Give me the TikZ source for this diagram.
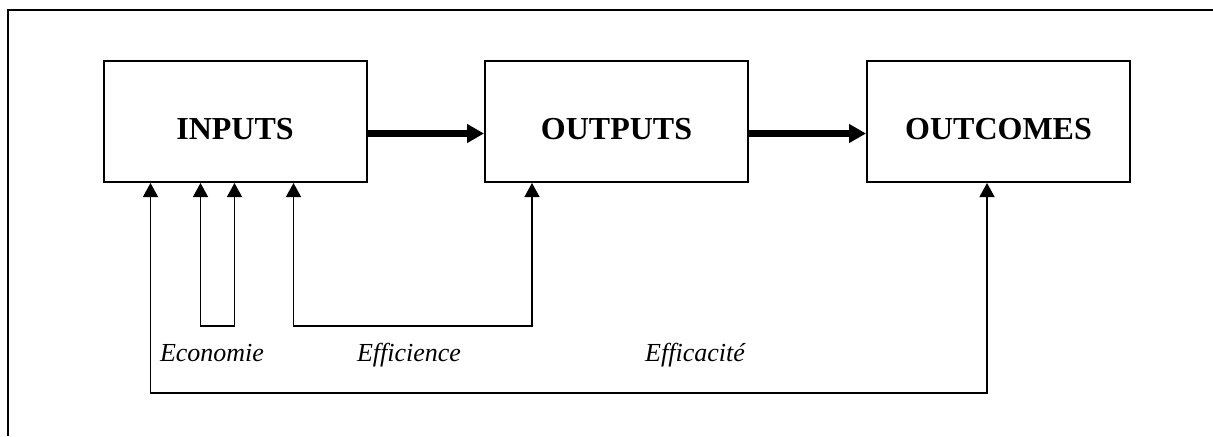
\documentclass[tikz,border=0pt]{standalone}
\usepackage{fontspec}
\setmainfont{Liberation Serif}
\usetikzlibrary{arrows.meta}

\begin{document}
\begin{tikzpicture}
[x=0.5pt,y=-0.5pt,%
  box/.style={shape=rectangle,draw,line width=1pt,minimum width=131.5pt,minimum height=60.5pt,%
    font=\fontsize{16}{19}\selectfont\bfseries,text height=17.6pt,text depth=0pt},%
  flow/.style={-{Triangle[length=8.5pt,width=9pt]},line width=3.3pt},%
  back/.style={{Triangle[length=7pt,width=7.5pt]}-{Triangle[length=7pt,width=7.5pt]},line width=0.7pt},%
  lab/.style={font=\fontsize{13}{15}\selectfont\itshape,anchor=base,inner sep=0pt}]
\useasboundingbox (0,0) rectangle (1213,436);
\draw[line width=1pt] (8,436) -- (8,10) -- (1214,10);
\node[box] (inputs) at (235,121.5) {INPUTS};
\node[box] (outputs) at (616.5,121.5) {OUTPUTS};
\node[box] (outcomes) at (998.5,121.5) {OUTCOMES};
\draw[flow] ([yshift=-6pt]inputs.east) -- ([yshift=-6pt]outputs.west);
\draw[flow] ([yshift=-6pt]outputs.east) -- ([yshift=-6pt]outcomes.west);
% feet of the return lines
\coordinate (e1) at ([xshift=24pt]inputs.south west);
\coordinate (e2) at ([xshift=49pt]inputs.south west);
\coordinate (e3) at ([xshift=66pt]inputs.south west);
\coordinate (e4) at ([xshift=95.5pt]inputs.south west);
\coordinate (e5) at ([xshift=24pt]outputs.south west);
\coordinate (e6) at ([xshift=60.5pt]outcomes.south west);
\coordinate (low1) at (0,326);
\coordinate (low2) at (0,393);
\draw[back] (e2) -- (e2 |- low1) -- (e3 |- low1) -- (e3);
\draw[back] (e4) -- (e4 |- low1) -- (e5 |- low1) -- (e5);
\draw[back] (e1) -- (e1 |- low2) -- (e6 |- low2) -- (e6);
\node[lab] (economie) at (212,361) {Economie};
\node[lab] (efficience) at (409,361) {Efficience};
\node[lab] (efficacite) at (695,361) {Efficacité};
\end{tikzpicture}
\end{document}
